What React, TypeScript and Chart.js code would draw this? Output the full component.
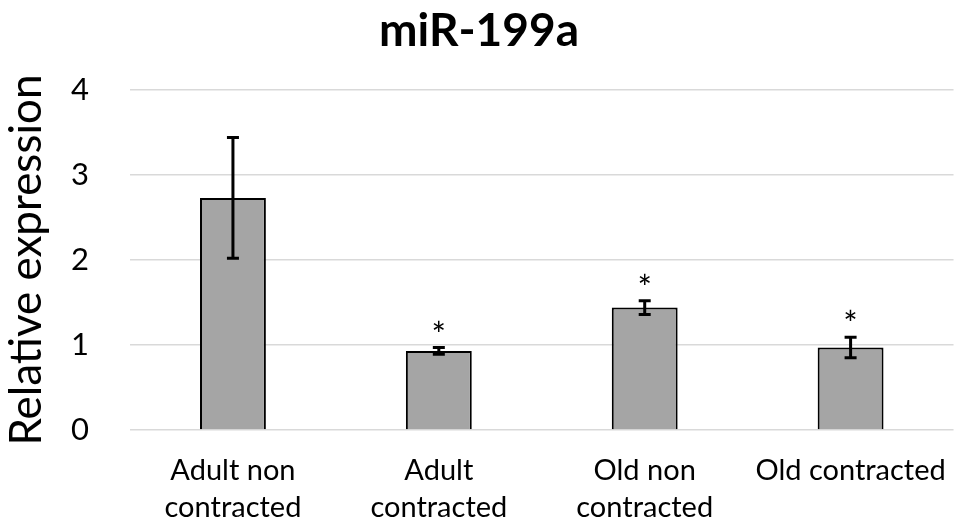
import React, { useEffect, useRef } from "react";
import { Chart, registerables } from "chart.js";

Chart.register(...registerables);

const categories: (string | string[])[] = [
  ["Adult non", "contracted"],
  ["Adult", "contracted"],
  ["Old non", "contracted"],
  "Old contracted",
];
const expression = [2.73, 0.93, 1.44, 0.97];
const errors = [0.71, 0.04, 0.08, 0.12];
const significance = ["", "*", "*", "*"];
const yTicks = [0, 1, 2, 3, 4];

const FONT = "Lato, 'Open Sans', sans-serif";

// Error bars with caps plus significance markers above them
const errorBarPlugin = {
  id: "errorBars",
  afterDatasetsDraw(chart: any) {
    const { ctx } = chart;
    const meta = chart.getDatasetMeta(0);
    const y = chart.scales.y;
    ctx.save();
    meta.data.forEach((bar: any, i: number) => {
      const x = bar.x;
      const top = y.getPixelForValue(expression[i] + errors[i]);
      const bottom = y.getPixelForValue(expression[i] - errors[i]);
      ctx.strokeStyle = "#000";
      ctx.lineWidth = 3;
      ctx.beginPath();
      ctx.moveTo(x, top);
      ctx.lineTo(x, bottom);
      ctx.moveTo(x - 6, top);
      ctx.lineTo(x + 6, top);
      ctx.moveTo(x - 6, bottom);
      ctx.lineTo(x + 6, bottom);
      ctx.stroke();
      if (significance[i]) {
        ctx.fillStyle = "#000";
        ctx.font = `34px ${FONT}`;
        ctx.textAlign = "center";
        ctx.textBaseline = "middle";
        ctx.fillText(significance[i], x, top - 12);
      }
    });
    ctx.restore();
  },
};

export default function App() {
  const canvasRef = useRef<HTMLCanvasElement | null>(null);

  useEffect(() => {
    document.body.style.margin = "0";
    const canvas = canvasRef.current;
    if (!canvas) return;
    const chart = new Chart(canvas, {
      type: "bar",
      data: {
        labels: categories,
        datasets: [
          {
            data: expression,
            backgroundColor: "#A5A5A5",
            borderColor: "#000000",
            borderWidth: 2,
            categoryPercentage: 1,
            barPercentage: 0.32,
          },
        ],
      },
      options: {
        responsive: false,
        animation: false,
        layout: { padding: { left: 0, right: 2, top: 0, bottom: 0 } },
        plugins: {
          legend: { display: false },
          tooltip: { enabled: false },
          title: {
            display: true,
            text: "miR-199a",
            color: "#000",
            font: { family: FONT, size: 46, weight: "bold", lineHeight: 1.2 },
            padding: { top: 4, bottom: 30.8 },
          },
        },
        scales: {
          x: {
            grid: { display: false },
            border: { display: false },
            ticks: {
              color: "#000",
              font: { family: FONT, size: 29, lineHeight: 1.28 },
              maxRotation: 0,
              autoSkip: false,
              padding: 14,
            },
            afterFit(scale: any) {
              scale.height = 97;
            },
          },
          y: {
            min: 0,
            max: 4,
            afterBuildTicks(scale: any) {
              scale.ticks = yTicks.map((v) => ({ value: v }));
            },
            grid: { color: "#D9D9D9", lineWidth: 1.5, drawTicks: false },
            border: { display: false },
            ticks: {
              color: "#000",
              font: { family: FONT, size: 31 },
              padding: 41,
            },
            title: {
              display: true,
              text: "Relative expression",
              color: "#000",
              font: { family: FONT, size: 44, lineHeight: 1.2 },
              padding: { top: 0, bottom: 0 },
            },
            afterFit(scale: any) {
              scale.width = 130;
            },
          },
        },
      },
      plugins: [errorBarPlugin],
    });
    return () => chart.destroy();
  }, []);

  return <canvas ref={canvasRef} width={960} height={527} style={{ display: "block" }} />;
}
